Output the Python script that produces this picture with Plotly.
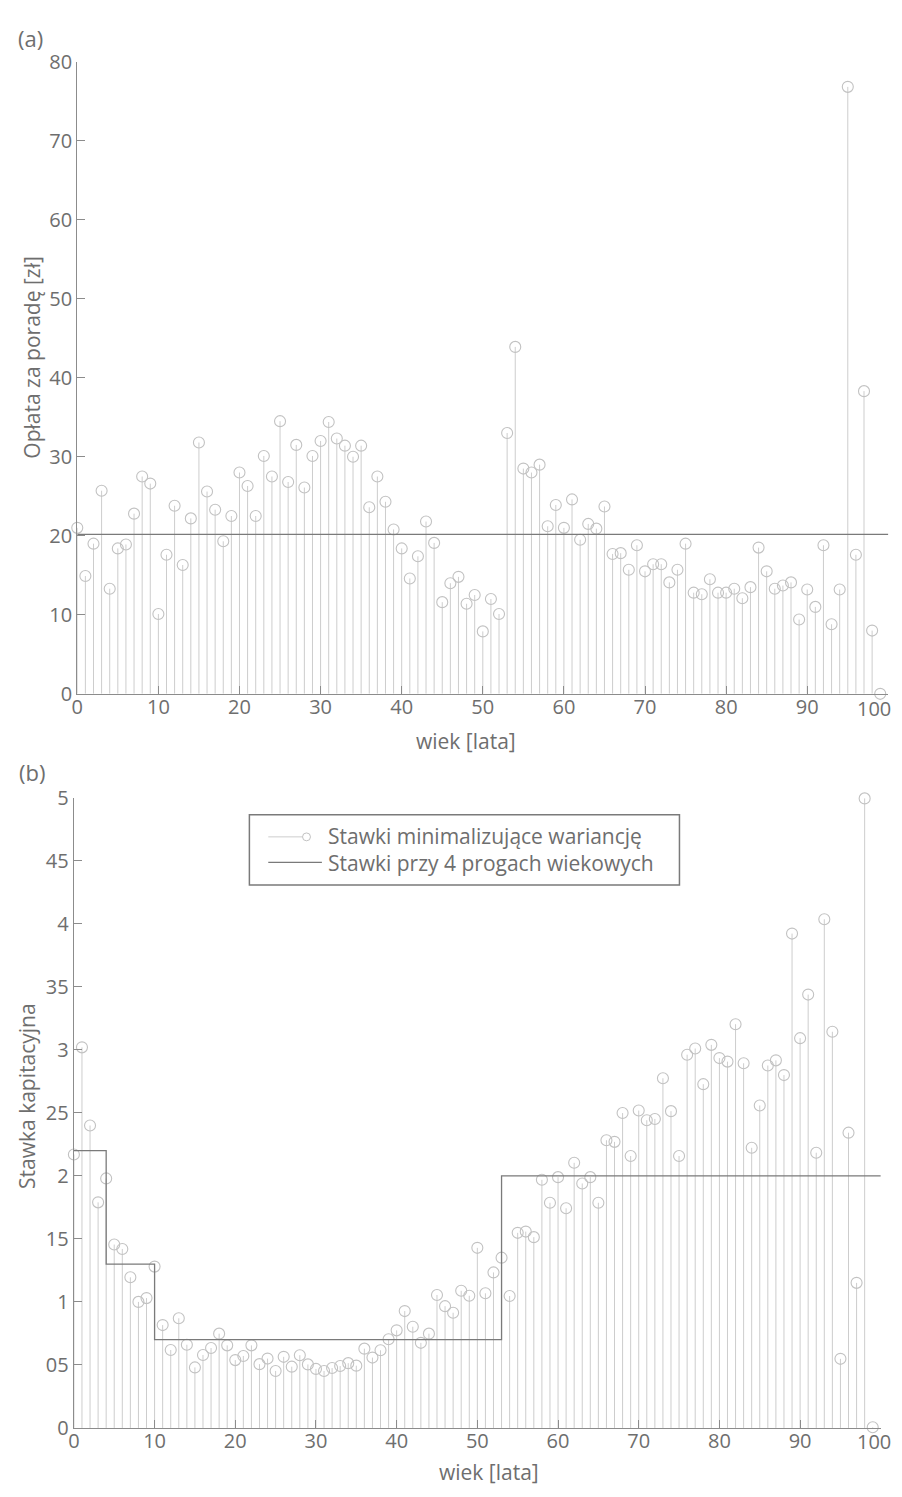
import plotly.graph_objects as go

# ---------------- data ----------------
ages = list(range(100))

fee = [21.0, 14.9, 19.0, 25.7, 13.3, 18.4, 18.9, 22.8, 27.5, 26.6,
       10.1, 17.6, 23.8, 16.3, 22.2, 31.8, 25.6, 23.3, 19.3, 22.5,
       28.0, 26.3, 22.5, 30.1, 27.5, 34.5, 26.8, 31.5, 26.1, 30.1,
       32.0, 34.4, 32.3, 31.4, 30.0, 31.4, 23.6, 27.5, 24.3, 20.8,
       18.4, 14.6, 17.4, 21.8, 19.1, 11.6, 14.0, 14.8, 11.4, 12.5,
       7.9, 12.0, 10.1, 33.0, 43.9, 28.5, 28.0, 29.0, 21.2, 23.9,
       21.0, 24.6, 19.5, 21.5, 20.9, 23.7, 17.7, 17.8, 15.7, 18.8,
       15.5, 16.4, 16.4, 14.1, 15.7, 19.0, 12.8, 12.6, 14.5, 12.8,
       12.8, 13.3, 12.1, 13.5, 18.5, 15.5, 13.3, 13.7, 14.1, 9.4,
       13.2, 11.0, 18.8, 8.8, 13.2, 76.8, 17.6, 38.3, 8.0, 0.0]

mean_fee = 20.17

rate = [2.17, 3.02, 2.40, 1.79, 1.98, 1.455, 1.42, 1.195, 1.00, 1.03,
        1.28, 0.816, 0.618, 0.87, 0.66, 0.48, 0.579, 0.634, 0.748, 0.655,
        0.538, 0.571, 0.655, 0.506, 0.55, 0.452, 0.564, 0.486, 0.577, 0.504,
        0.468, 0.452, 0.475, 0.491, 0.514, 0.494, 0.629, 0.558, 0.616, 0.704,
        0.774, 0.927, 0.803, 0.675, 0.748, 1.055, 0.966, 0.914, 1.088, 1.049,
        1.429, 1.068, 1.234, 1.351, 1.047, 1.548, 1.558, 1.514, 1.969, 1.787,
        1.99, 1.743, 2.104, 1.94, 1.99, 1.787, 2.283, 2.27, 2.499, 2.158,
        2.519, 2.442, 2.452, 2.775, 2.514, 2.158, 2.962, 3.011, 2.728, 3.04,
        2.935, 2.907, 3.204, 2.894, 2.223, 2.559, 2.876, 2.917, 2.80, 3.923,
        3.093, 3.439, 2.184, 4.037, 3.144, 0.548, 2.343, 1.151, 4.996, 0.005]

step_edges = [0, 4, 10, 53, 100]
step_values = [2.2, 1.3, 0.7, 2.0]

x_ticks = [0, 10, 20, 30, 40, 50, 60, 70, 80, 90, 100]
x_ticktext = ["0", "10", "20", "30", "40", "50", "60", "70", "80", "90", "100"]
ya_ticks = [0, 10, 20, 30, 40, 50, 60, 70, 80]
yb_ticks = [0, 0.5, 1, 1.5, 2, 2.5, 3, 3.5, 4, 4.5, 5]
yb_ticktext = ["0", "05", "1", "15", "2", "25", "3", "35", "4", "45", "5"]

legend_labels = ["Stawki minimalizujące wariancję", "Stawki przy 4 progach wiekowych"]

# ---------------- styling ----------------
PAGE_W, PAGE_H = 902, 1497
BODY = 8                      # default body margin of the html page
W, H = PAGE_W - 2 * BODY, PAGE_H - 2 * BODY
FONT = "Open Sans"
TXT = "#6e6e6e"
AXC = "#8c8c8c"
STEM = "#cdcdcd"
MARK = "#c2c2c2"
DARK = "#7a7a7a"


def px(p):
    return (p - BODY) / W


def py(p):
    return 1 - (p - BODY) / H


def stems(xs, ys):
    sx, sy = [], []
    for a, v in zip(xs, ys):
        sx += [a, a, None]
        sy += [0, v, None]
    return sx, sy


fig = go.Figure()

# panel (a)
sx, sy = stems(ages, fee)
fig.add_trace(go.Scatter(x=sx, y=sy, mode="lines", line=dict(color=STEM, width=1),
                         xaxis="x", yaxis="y", showlegend=False, hoverinfo="skip"))
fig.add_trace(go.Scatter(x=ages, y=fee, mode="markers", cliponaxis=False,
                         marker=dict(symbol="circle-open", size=11, color=MARK, line=dict(width=1.1)),
                         xaxis="x", yaxis="y", showlegend=False))
fig.add_trace(go.Scatter(x=[0, 100], y=[mean_fee, mean_fee], mode="lines",
                         line=dict(color=DARK, width=1.3), xaxis="x", yaxis="y", showlegend=False))

# panel (b)
sx, sy = stems(ages, rate)
fig.add_trace(go.Scatter(x=sx, y=sy, mode="lines", line=dict(color=STEM, width=1),
                         xaxis="x2", yaxis="y2", showlegend=False, hoverinfo="skip"))
fig.add_trace(go.Scatter(x=ages, y=rate, mode="markers", cliponaxis=False,
                         marker=dict(symbol="circle-open", size=11, color=MARK, line=dict(width=1.1)),
                         xaxis="x2", yaxis="y2", showlegend=False, name=legend_labels[0]))
step_x = step_edges
step_y = step_values + [step_values[-1]]
fig.add_trace(go.Scatter(x=step_x, y=step_y, mode="lines", line=dict(color=DARK, width=1.3, shape="hv"),
                         xaxis="x2", yaxis="y2", showlegend=False, name=legend_labels[1]))

axis_common = dict(showline=True, linecolor=AXC, linewidth=1.3, ticks="inside", ticklen=8,
                   tickcolor=AXC, tickwidth=1, showgrid=False, zeroline=False,
                   tickfont=dict(family=FONT, size=20, color=TXT))

# last x tick label would run past the page edge: it is written separately below
x_ticktext_axis = x_ticktext[:-1] + [""]

fig.update_layout(
    width=W, height=H,
    margin=dict(l=0, r=0, t=0, b=0),
    paper_bgcolor="white", plot_bgcolor="white",
    showlegend=False,
    xaxis=dict(domain=[px(71.7), px(888.3)], range=[0, 100], anchor="y",
               tickvals=x_ticks, ticktext=x_ticktext_axis, ticklabelstandoff=-5, **axis_common),
    yaxis=dict(domain=[py(692.3), py(48.3)], range=[0, 80], anchor="x",
               tickvals=ya_ticks, **axis_common),
    xaxis2=dict(domain=[px(68.3), px(880.7)], range=[0, 100], anchor="y2",
                tickvals=x_ticks, ticktext=x_ticktext_axis, ticklabelstandoff=-5, **axis_common),
    yaxis2=dict(domain=[py(1440), py(798.3)], range=[0, 5], anchor="x2",
                tickvals=yb_ticks, ticktext=yb_ticktext, **axis_common),
)

ann = []


def text(x, y, s, size, angle=0, xanchor="center"):
    ann.append(dict(x=px(x), y=py(y), xref="paper", yref="paper", text=s, showarrow=False,
                    textangle=angle, xanchor=xanchor, yanchor="middle",
                    font=dict(family=FONT, size=size, color=TXT)))


text(25, 24, "(a)", 22)
text(26, 772, "(b)", 22)
text(463, 740, "wiek [lata]", 21)
text(486, 1485, "wiek [lata]", 21)
text(26, 350, "Opłata za poradę [zł]", 21, angle=-90)
text(21, 1102, "Stawka kapitacyjna", 21, angle=-90)
text(893, 707.5, x_ticktext[-1], 20, xanchor="right")
text(893, 1454, x_ticktext[-1], 20, xanchor="right")

# legend (drawn in panel b)
text(322, 851, legend_labels[0] + "<br>" + legend_labels[1], 21, xanchor="left")
for a in ann[-1:]:
    a["align"] = "left"
fig.update_layout(annotations=ann)

shapes = [
    dict(type="rect", xref="paper", yref="paper", x0=px(245), x1=px(678), y0=py(887), y1=py(815.5),
         line=dict(color=DARK, width=1.5), fillcolor="white", layer="above"),
    dict(type="line", xref="paper", yref="paper", x0=px(264), x1=px(298.5), y0=py(838), y1=py(838),
         line=dict(color=STEM, width=1)),
    dict(type="circle", xref="paper", yref="paper", x0=px(298.5), x1=px(306.5), y0=py(842), y1=py(834),
         line=dict(color=MARK, width=1)),
    dict(type="line", xref="paper", yref="paper", x0=px(264), x1=px(318), y0=py(864), y1=py(864),
         line=dict(color=DARK, width=1.2)),
]
fig.update_layout(shapes=shapes)

fig.write_html("out.html")
